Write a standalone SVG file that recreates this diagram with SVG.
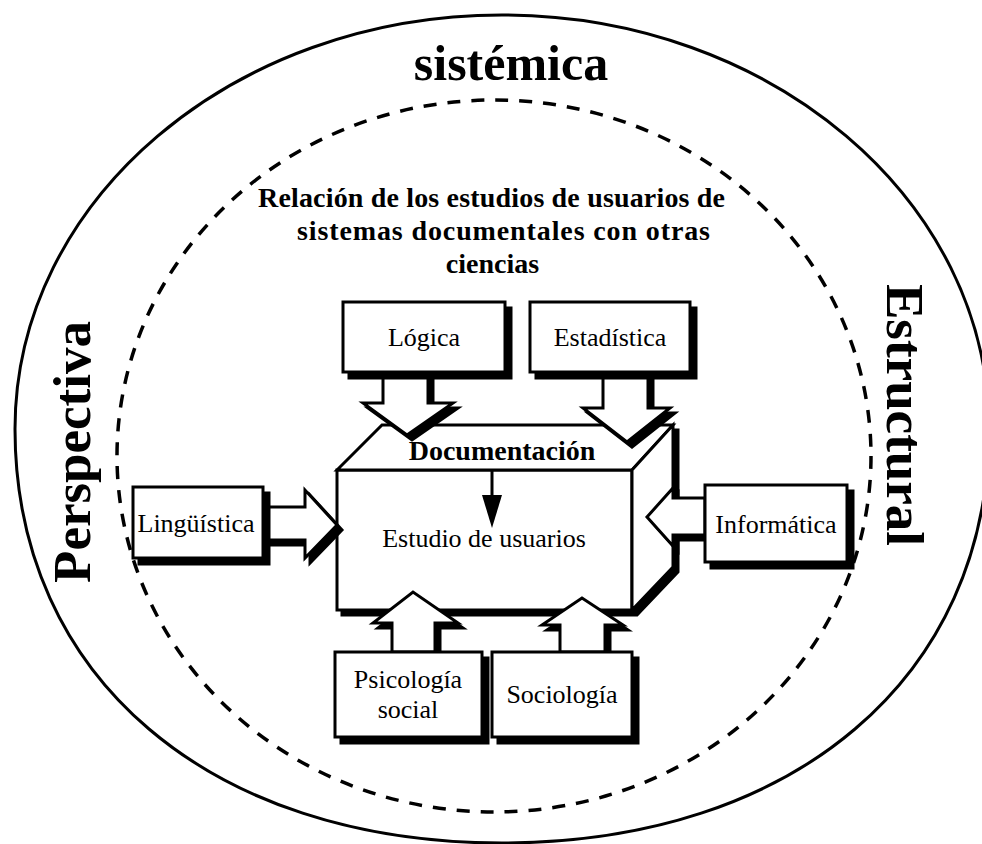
<svg xmlns="http://www.w3.org/2000/svg" width="982" height="844" viewBox="0 0 982 844">
<style>
.ln{fill:none;stroke:#000;stroke-width:3}
.dash{fill:none;stroke:#000;stroke-width:3.5;stroke-dasharray:13 11}
.box{fill:#fff;stroke:#000;stroke-width:3}
.sh{fill:#000;stroke:#000;stroke-width:3}
.t{font-family:"Liberation Serif","Times New Roman",serif;font-size:26px;fill:#000;text-anchor:middle}
.b{font-family:"Liberation Serif","Times New Roman",serif;font-weight:bold;fill:#000;text-anchor:middle}
</style>
<rect width="982" height="844" fill="#fff"/>
<g id="outer">
<path class="ln" d="M502,15 C771,15 989,200 989,429 C989,677 794,843 502,843 C210,843 15,677 15,429 C15,200 233,15 502,15 Z"/>
</g>
<g id="inner">
<ellipse class="dash" cx="494" cy="456" rx="377" ry="356"/>
</g>
<g id="labels">
<text class="b" x="511" y="80" font-size="50">sistémica</text>
<text class="b" x="0" y="0" font-size="53" transform="translate(90,452) rotate(-90)">Perspectiva</text>
<text class="b" x="0" y="0" font-size="53" transform="translate(887,415) rotate(90)">Estructural</text>
<text class="b" x="491.5" y="207" font-size="28" textLength="467" lengthAdjust="spacing">Relación de los estudios de usuarios de</text>
<text class="b" x="503.5" y="240" font-size="28" textLength="413" lengthAdjust="spacing">sistemas documentales con otras</text>
<text class="b" x="492.5" y="273" font-size="28">ciencias</text>
</g>
<g id="documentacion">
<polygon class="sh" points="342,475 387,430 678,430 678,572 637,615 342,615"/>
<rect class="box" x="337" y="470" width="295" height="140"/>
<polygon class="box" points="337,470 382,425 673,425 632,470"/>
<polygon class="box" points="632,470 673,425 673,567 632,610"/>
<text class="b" x="502" y="460" font-size="28">Documentación</text>
<text class="t" x="484" y="547">Estudio de usuarios</text>
<line x1="492" y1="470" x2="492" y2="500" stroke="#000" stroke-width="3"/>
<polygon points="482,495 502,495 492,528" fill="#000"/>
</g>
<g id="connectors">
<polygon class="sh" points="388,377 433,377 433,408 458,408 412,440 368,408 388,408"/>
<polygon class="box" points="383,372 428,372 428,403 453,403 407,435 363,403 383,403"/>
<polygon class="sh" points="608,377 653,377 653,413 675,413 632,447 588,413 608,413"/>
<polygon class="box" points="603,372 648,372 648,408 670,408 627,442 583,408 603,408"/>
<polygon class="sh" points="268,512 310,512 310,495 342,530 310,563 310,545 268,545"/>
<polygon class="box" points="263,507 305,507 305,490 337,525 305,558 305,540 263,540"/>
<polygon class="sh" points="710,503 678,503 678,493 652,522 678,551 678,540 710,540"/>
<polygon class="box" points="705,498 673,498 673,488 647,517 673,546 673,535 705,535"/>
<polygon class="sh" points="397,657 397,628 378,628 418,597 463,628 440,628 440,657"/>
<polygon class="box" points="392,652 392,623 373,623 413,592 458,623 435,623 435,652"/>
<polygon class="sh" points="565,657 565,630 547,630 587,603 628,630 610,630 610,657"/>
<polygon class="box" points="560,652 560,625 542,625 582,598 623,625 605,625 605,652"/>
</g>
<g id="logica">
<rect class="sh" x="349" y="308" width="162" height="70"/>
<rect class="box" x="343" y="302" width="162" height="70"/>
<text class="t" x="424" y="346">Lógica</text>
</g>
<g id="estadistica">
<rect class="sh" x="536" y="308" width="160" height="70"/>
<rect class="box" x="530" y="302" width="160" height="70"/>
<text class="t" x="610" y="346">Estadística</text>
</g>
<g id="linguistica">
<rect class="sh" x="139" y="493" width="130" height="71"/>
<rect class="box" x="133" y="487" width="130" height="71"/>
<text class="t" x="196" y="532">Lingüística</text>
</g>
<g id="informatica">
<rect class="sh" x="711" y="491" width="142" height="77"/>
<rect class="box" x="705" y="485" width="142" height="77"/>
<text class="t" x="776" y="533">Informática</text>
</g>
<g id="psicologia">
<rect class="sh" x="341" y="658" width="147" height="85"/>
<rect class="box" x="335" y="652" width="147" height="85"/>
<text class="t" x="408" y="688">Psicología</text>
<text class="t" x="408" y="718">social</text>
</g>
<g id="sociologia">
<rect class="sh" x="498" y="658" width="140" height="85"/>
<rect class="box" x="492" y="652" width="140" height="85"/>
<text class="t" x="562" y="703">Sociología</text>
</g>
</svg>
